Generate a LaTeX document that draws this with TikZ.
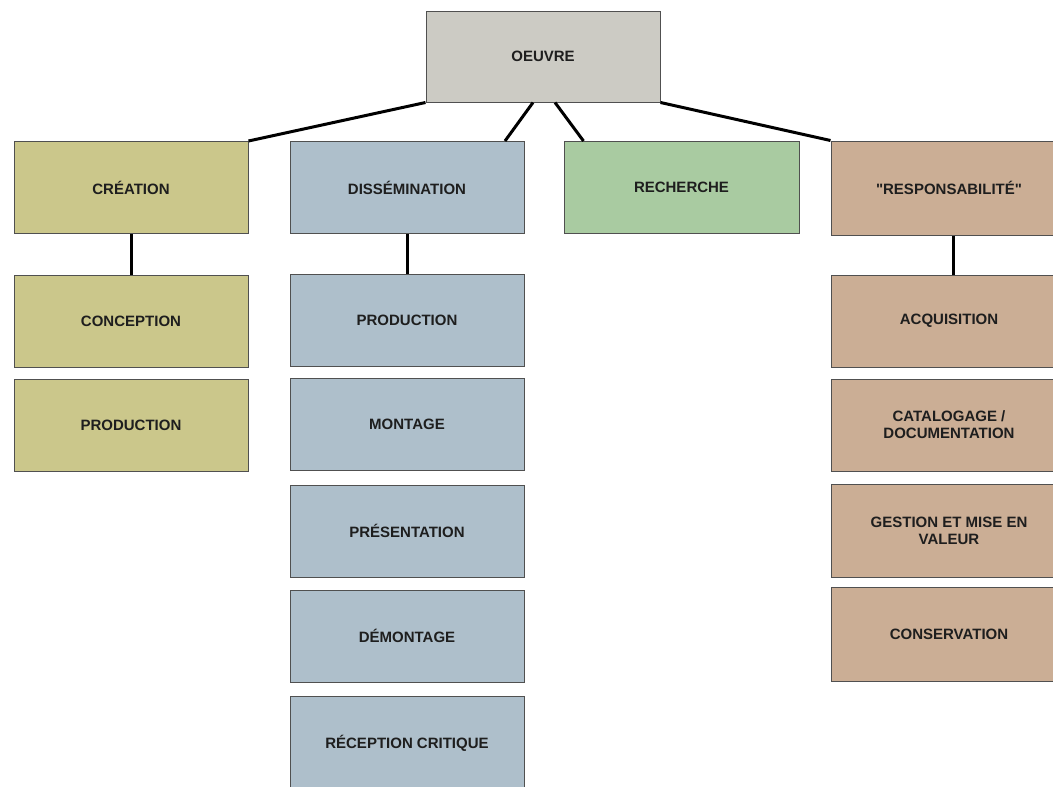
\documentclass[tikz,border=0pt]{standalone}
\usepackage{fontspec}
\setmainfont{Liberation Sans}
\usetikzlibrary{calc}
\definecolor{cgray}{HTML}{CCCBC4}
\definecolor{colive}{HTML}{CBC78B}
\definecolor{cblue}{HTML}{AEBFCB}
\definecolor{cgreen}{HTML}{A9CBA1}
\definecolor{ctan}{HTML}{CBAE95}
\definecolor{boxline}{HTML}{505050}
\definecolor{textcol}{HTML}{1E1E1E}
\begin{document}
\begin{tikzpicture}[x=1pt,y=-1pt,
  box/.style={draw=boxline, line width=1pt, minimum width=234pt, minimum height=92pt,
    inner sep=0pt, align=center, font=\fontsize{15}{17}\selectfont\bfseries, text=textcol},
  link/.style={line width=3pt, draw=black}]
\useasboundingbox (0,0) rectangle (1053,787);
\fill[white] (0,0) rectangle (1053,787);
\clip (0,0) rectangle (1053,787);
% top
\node[box, fill=cgray, minimum height=91pt] (oeuvre) at (543,56.5) {OEUVRE};
% row 1
\node[box, fill=colive] (creation) at (131,187.5) {CRÉATION};
\node[box, fill=cblue] (diss) at (407,187.5) {DISSÉMINATION};
\node[box, fill=cgreen, minimum width=235pt] (rech) at (681.5,187.5) {RECHERCHE};
\node[box, fill=ctan, minimum width=236pt, minimum height=94pt] (resp) at (949,188) {\textquotedbl RESPONSABILITÉ\textquotedbl};
% left column
\node[box, fill=colive] (concep) at (131,321) {CONCEPTION};
\node[box, fill=colive] (prodA) at (131,425) {PRODUCTION};
% middle column
\node[box, fill=cblue] (prodB) at (407,320) {PRODUCTION};
\node[box, fill=cblue] (montage) at (407,424) {MONTAGE};
\node[box, fill=cblue] (present) at (407,531) {PRÉSENTATION};
\node[box, fill=cblue] (demont) at (407,636) {DÉMONTAGE};
\node[box, fill=cblue, minimum height=94pt] (recept) at (407,743) {RÉCEPTION CRITIQUE};
% right column
\node[box, fill=ctan, minimum width=236pt] (acq) at (949,321) {ACQUISITION};
\node[box, fill=ctan, minimum width=236pt] (catal) at (949,425) {CATALOGAGE /\\DOCUMENTATION};
\node[box, fill=ctan, minimum width=236pt, minimum height=93pt] (gestion) at (949,530.5) {GESTION ET MISE EN\\VALEUR};
\node[box, fill=ctan, minimum width=236pt, minimum height=94pt] (conserv) at (949,634) {CONSERVATION};
% connectors
\draw[link] (creation.north east) -- (oeuvre.south west);
\draw[link] ([xshift=-10pt]oeuvre.south) -- ([xshift=98pt]diss.north);
\draw[link] ([xshift=12pt]oeuvre.south) -- ([xshift=-98pt]rech.north);
\draw[link] (oeuvre.south east) -- (resp.north west);
\draw[link] (creation.south) -- (concep.north);
\draw[link] (diss.south) -- (prodB.north);
\draw[link] ([xshift=4pt]resp.south) -- ([xshift=4pt]acq.north);
\end{tikzpicture}
\end{document}
